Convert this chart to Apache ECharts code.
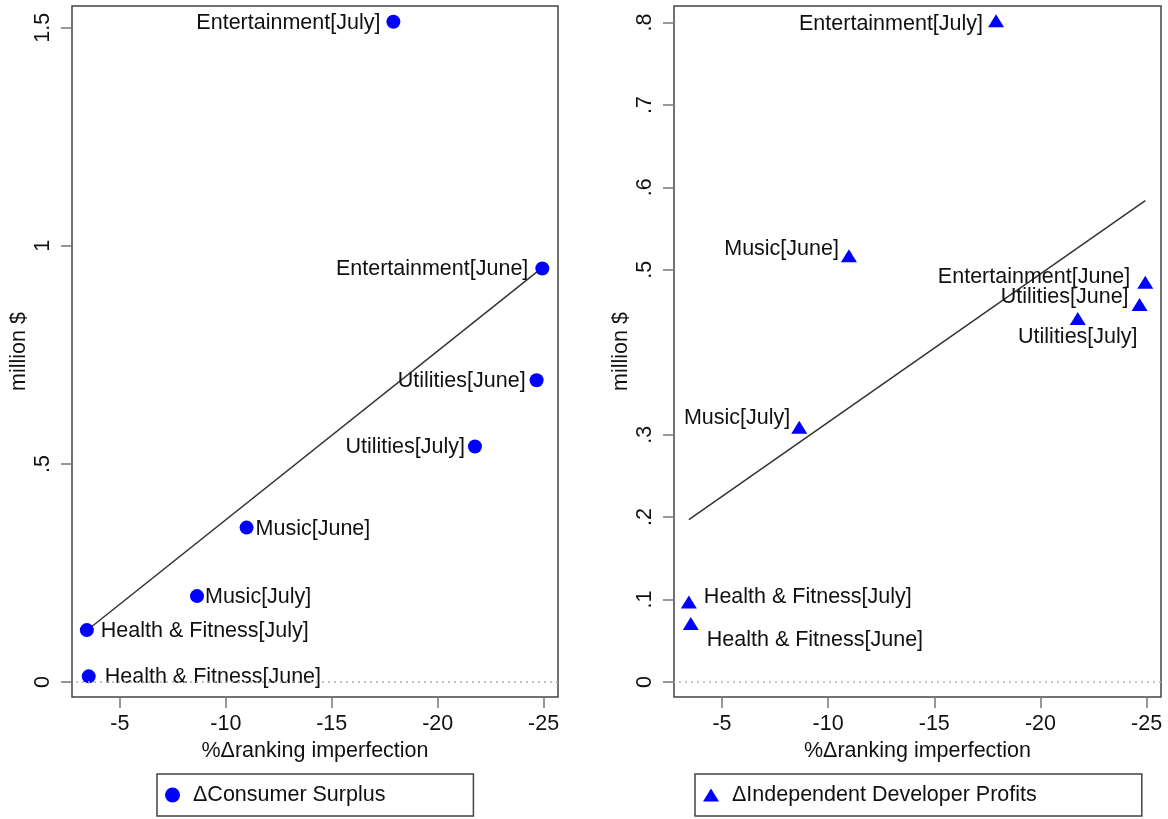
<!DOCTYPE html>
<html><head><meta charset="utf-8">
<script src="https://cdn.jsdelivr.net/npm/echarts@6/dist/echarts.min.js"></script>
<style>html,body{margin:0;padding:0;background:#fff;}#c{width:1168px;height:819px;}</style>
</head><body><div id="c"></div>
<script>
// ---------- data ----------
const categories = ['Entertainment[July]','Entertainment[June]','Utilities[June]','Utilities[July]','Music[June]','Music[July]','Health & Fitness[July]','Health & Fitness[June]'];
const rankingChange = [-17.91,-24.94,-24.67,-21.76,-10.98,-8.64,-3.44,-3.53];
const consumerSurplus = [1.514,0.948,0.692,0.540,0.354,0.197,0.119,0.013];
const developerProfits = [0.802,0.485,0.458,0.441,0.517,0.309,0.097,0.071];
const csFitX = [-3.44,-24.94];
const csFitY = [0.118,0.950];
const dpFitX = [-3.44,-24.94];
const dpFitY = [0.197,0.584];
const xTicks = [-5,-10,-15,-20,-25];
const csYTicks = [0,0.5,1,1.5];
const dpYTicks = [0,0.1,0.2,0.3,0.5,0.6,0.7,0.8];
const seriesNames = ['ΔConsumer Surplus','ΔIndependent Developer Profits'];
const xTitle = '%Δranking imperfection';
const yTitle = 'million $';

// ---------- label placement (style) ----------
const csLabelPlace = [
  {position:'left',distance:6,offset:[0,1]},
  {position:'left',distance:7,offset:[0,1]},
  {position:'left',distance:4,offset:[0,1]},
  {position:'left',distance:3,offset:[0,1]},
  {position:'right',distance:2,offset:[0,1]},
  {position:'right',distance:1,offset:[0,1]},
  {position:'right',distance:7,offset:[0,1]},
  {position:'right',distance:9,offset:[0,1]}
];
const dpLabelPlace = [
  {position:'left',distance:5,offset:[0,3]},
  {position:'left',distance:7,offset:[0,-5]},
  {position:'left',distance:3,offset:[0,-7]},
  {position:'bottom',distance:1,offset:[0,0]},
  {position:'left',distance:2,offset:[0,-7]},
  {position:'left',distance:1,offset:[0,-9]},
  {position:'right',distance:7,offset:[0,-5]},
  {position:'right',distance:8,offset:[0,17]}
];

const FONT = 'Liberation Sans, Arial, Helvetica, sans-serif';
const FS = 21.5;
const BLUE = '#0000ff';
const INK = '#111';

function fmtY(v){ if (v === 0) return '0'; return String(+v.toFixed(2)).replace(/^0\./,'.'); }

function makeX(gi){
  return {
    gridIndex: gi, type:'value', inverse:true, min:-25.68, max:-2.74,
    axisLine:{show:false, onZero:false}, splitLine:{show:false},
    axisTick:{show:true, customValues:xTicks, length:11, lineStyle:{color:'#777',width:1.5}},
    axisLabel:{customValues:xTicks, margin:16, fontSize:FS, fontFamily:FONT, color:INK},
    name:xTitle, nameLocation:'middle', nameGap:41,
    nameTextStyle:{fontSize:FS, fontFamily:FONT, color:INK}
  };
}
function makeY(gi, min, max, ticks){
  return {
    gridIndex: gi, type:'value', min:min, max:max,
    axisLine:{show:false, onZero:false}, splitLine:{show:false},
    axisTick:{show:true, customValues:ticks, length:11, lineStyle:{color:'#777',width:1.5}},
    axisLabel:{customValues:ticks, rotate:90, margin:18, fontSize:FS, fontFamily:FONT, color:INK, formatter:fmtY},
    name:yTitle, nameLocation:'middle', nameGap:42, nameRotate:90,
    nameTextStyle:{fontSize:FS, fontFamily:FONT, color:INK}
  };
}
function points(ys, place){
  return categories.map((n,i)=>({
    name:n, value:[rankingChange[i], ys[i]],
    label:{position:place[i].position, distance:place[i].distance, offset:place[i].offset}
  }));
}
const zeroLine = {
  silent:true, symbol:['none','none'], label:{show:false},
  lineStyle:{type:[2,4], color:'#b0b0b0', width:1.5, opacity:1},
  emphasis:{disabled:true}, data:[{yAxis:0}]
};
const labelBase = {show:true, formatter:p=>p.name, color:INK, fontSize:FS, fontFamily:FONT};

const chart = echarts.init(document.getElementById('c'), null, {renderer:'canvas'});
chart.setOption({
  animation:false,
  backgroundColor:'#fff',
  grid:[
    {left:72, top:6, width:486, height:691, show:true, borderColor:'#444', borderWidth:1.5, containLabel:false},
    {left:674, top:6, width:487, height:691, show:true, borderColor:'#444', borderWidth:1.5, containLabel:false}
  ],
  xAxis:[makeX(0), makeX(1)],
  yAxis:[makeY(0,-0.0344,1.55,csYTicks), makeY(1,-0.0182,0.82,dpYTicks)],
  legend:[
    {data:[seriesNames[0]], left:157, top:774, orient:'horizontal', selectedMode:false,
     padding:[10,88,10,8], itemWidth:15, itemHeight:15, borderColor:'#444', borderWidth:1.5,
     itemStyle:{opacity:1},
     textStyle:{fontSize:FS, fontFamily:FONT, color:INK, padding:[0,0,0,8]}},
    {data:[seriesNames[1]], left:695, top:774, orient:'horizontal', selectedMode:false,
     padding:[10,105,10,8], itemWidth:16, itemHeight:13, borderColor:'#444', borderWidth:1.5,
     itemStyle:{opacity:1},
     textStyle:{fontSize:FS, fontFamily:FONT, color:INK, padding:[0,0,0,8]}}
  ],
  series:[
    {type:'line', xAxisIndex:0, yAxisIndex:0, silent:true, showSymbol:false, z:2,
     lineStyle:{color:'#333', width:1.5}, data:csFitX.map((x,i)=>[x,csFitY[i]])},
    {type:'line', xAxisIndex:1, yAxisIndex:1, silent:true, showSymbol:false, z:2,
     lineStyle:{color:'#333', width:1.5}, data:dpFitX.map((x,i)=>[x,dpFitY[i]])},
    {name:seriesNames[0], type:'scatter', xAxisIndex:0, yAxisIndex:0, symbol:'circle', symbolSize:14, z:3,
     itemStyle:{color:BLUE, opacity:1}, label:labelBase, markLine:zeroLine, data:points(consumerSurplus, csLabelPlace)},
    {name:seriesNames[1], type:'scatter', xAxisIndex:1, yAxisIndex:1, symbol:'triangle', symbolSize:[16,13], z:3,
     itemStyle:{color:BLUE, opacity:1}, label:labelBase, markLine:zeroLine, data:points(developerProfits, dpLabelPlace)}
  ]
});
</script></body></html>
